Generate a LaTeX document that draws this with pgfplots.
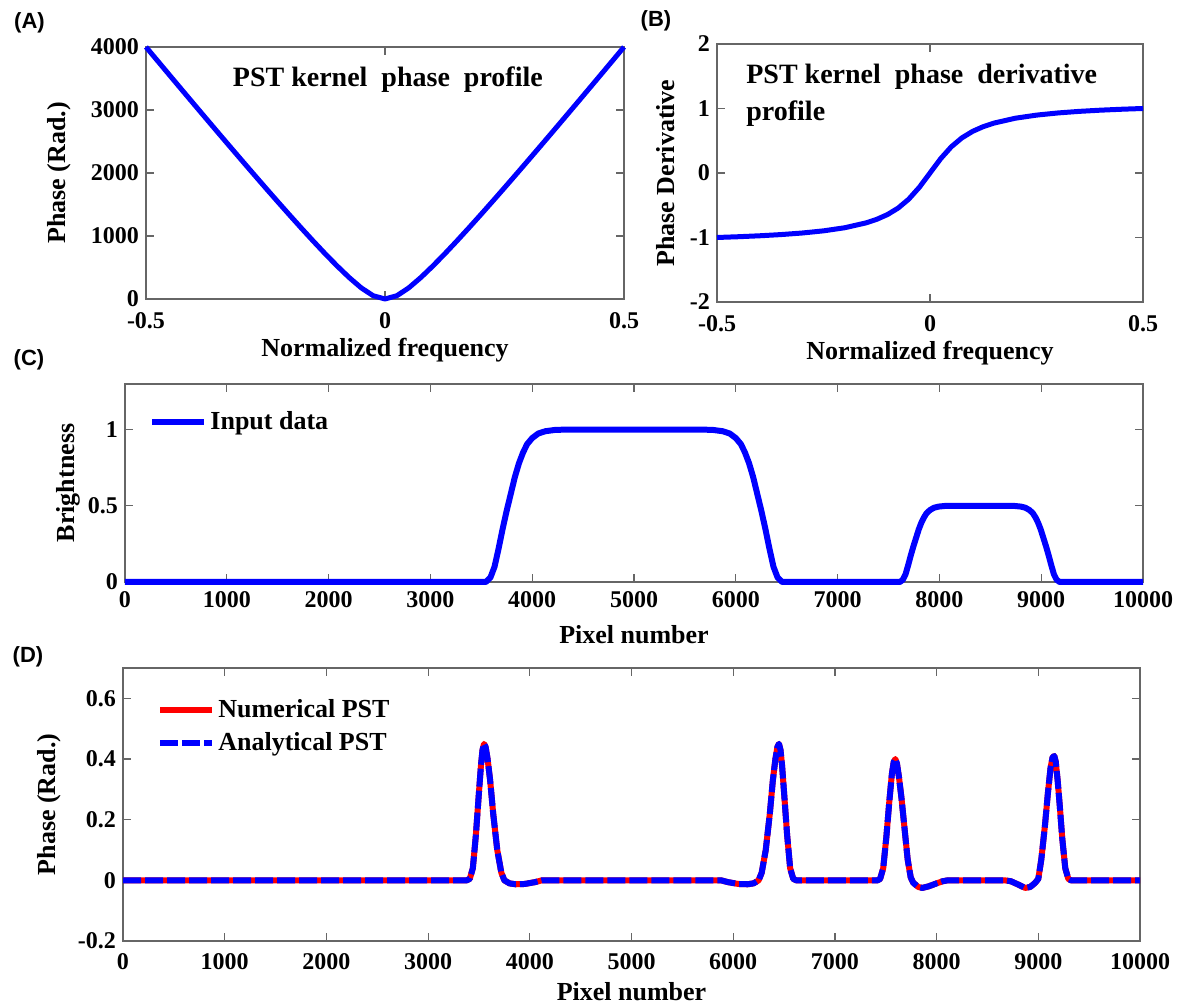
\documentclass[border=0pt]{standalone}
\usepackage{fontspec}
\setmainfont{Liberation Serif}
\newfontfamily\labelfont{Liberation Sans}
\usepackage{pgfplots}
\pgfplotsset{compat=1.18}

\definecolor{mblue}{RGB}{0,0,255}
\definecolor{mred}{RGB}{255,0,0}

\pgfplotsset{
  myaxis/.style={
    scale only axis, clip=false, scaled ticks=false,
    tick align=inside, major tick length=4pt,
    axis line style={black!60, line width=0.6pt},
    every tick/.style={black!60, line width=0.6pt},
    tick label style={font=\fontsize{12}{14}\selectfont\bfseries},
    label style={font=\fontsize{13}{15}\selectfont\bfseries},
    /pgf/number format/assume math mode=true,
    /pgf/number format/1000 sep={},
    legend style={draw=none, fill=none, inner sep=0pt, nodes={inner sep=1.5pt},
      font=\fontsize{13}{15}\selectfont\bfseries, cells={anchor=west}, row sep=3pt},
    legend image code/.code={\draw[##1] (0pt,0pt) -- (26pt,0pt);},
    every axis plot/.append style={line join=round},
  }
}

\pgfplotstableread{
x y
-0.5 4000
-0.475 3773.0
-0.45 3546.5
-0.425 3320.6
-0.4 3095.5
-0.375 2871.1
-0.35 2647.5
-0.325 2425.1
-0.3 2203.8
-0.275 1983.9
-0.25 1765.6
-0.225 1549.3
-0.2 1335.5
-0.175 1124.8
-0.15 918.0
-0.125 716.3
-0.1 523.0
-0.075 340.9
-0.05 178.3
-0.025 52.3
0 0
0.025 52.3
0.05 178.3
0.075 340.9
0.1 523.0
0.125 716.3
0.15 918.0
0.175 1124.8
0.2 1335.5
0.225 1549.3
0.25 1765.6
0.275 1983.9
0.3 2203.8
0.325 2425.1
0.35 2647.5
0.375 2871.1
0.4 3095.5
0.425 3320.6
0.45 3546.5
0.475 3773.0
0.5 4000
}\phasetable

\pgfplotstableread{
x y
-0.5 -1.0
-0.45 -0.9883
-0.4 -0.9737
-0.35 -0.9551
-0.3 -0.9306
-0.25 -0.8972
-0.2 -0.8487
-0.15 -0.7733
-0.125 -0.7186
-0.1 -0.6453
-0.075 -0.5449
-0.05 -0.4065
-0.025 -0.2216
0 0
0.025 0.2216
0.05 0.4065
0.075 0.5449
0.1 0.6453
0.125 0.7186
0.15 0.7733
0.2 0.8487
0.25 0.8972
0.3 0.9306
0.35 0.9551
0.4 0.9737
0.45 0.9883
0.5 1.0
}\derivtable

\pgfplotstableread{
x y
0 0
3545 0
3590 0.03
3630 0.10
3670 0.22
3710 0.35
3750 0.47
3790 0.58
3830 0.69
3870 0.78
3910 0.85
3950 0.905
4000 0.945
4060 0.975
4130 0.99
4220 0.998
4300 1.0
5700 1.0
5780 0.998
5870 0.99
5940 0.975
6000 0.945
6050 0.905
6090 0.85
6130 0.78
6170 0.69
6210 0.58
6250 0.47
6290 0.35
6330 0.22
6370 0.10
6410 0.03
6455 0
7612 0
7641 0.015
7667 0.05
7693 0.11
7719 0.175
7745 0.235
7771 0.29
7797 0.345
7823 0.39
7849 0.425
7875 0.4525
7908 0.4725
7947 0.4875
7992 0.495
8051 0.499
8103 0.5
8689 0.5
8741 0.499
8800 0.495
8845 0.4875
8884 0.4725
8917 0.4525
8943 0.425
8969 0.39
8995 0.345
9021 0.29
9047 0.235
9073 0.175
9099 0.11
9125 0.05
9151 0.015
9180 0
10000 0
}\inputtable

\pgfplotstableread{
x y
0 0
3380 0
3410 0.005
3440 0.04
3470 0.15
3500 0.29
3520 0.38
3535 0.43
3550 0.45
3565 0.44
3585 0.40
3610 0.33
3640 0.22
3680 0.10
3720 0.025
3750 0
3800 -0.01
3860 -0.013
3950 -0.012
4050 -0.006
4120 0
5880 0
5950 -0.006
6050 -0.012
6140 -0.013
6200 -0.01
6250 0
6280 0.025
6320 0.10
6360 0.22
6390 0.33
6415 0.40
6435 0.44
6450 0.45
6465 0.43
6480 0.38
6500 0.29
6530 0.15
6560 0.04
6590 0.005
6620 0
7420 0
7445 0.005
7475 0.04
7505 0.14
7535 0.26
7560 0.35
7578 0.39
7594 0.40
7610 0.385
7630 0.34
7655 0.27
7685 0.17
7715 0.07
7745 0.01
7770 -0.008
7820 -0.022
7860 -0.025
7920 -0.02
8000 -0.01
8060 -0.003
8110 0
8670 0
8730 -0.003
8790 -0.012
8870 -0.025
8920 -0.022
8970 -0.008
9000 0.005
9030 0.07
9065 0.18
9095 0.29
9120 0.37
9140 0.405
9157 0.41
9172 0.39
9190 0.33
9210 0.25
9235 0.14
9265 0.04
9295 0.005
9320 0
10000 0
}\psttable

\begin{document}
\begin{tikzpicture}
\useasboundingbox (0pt,0pt) rectangle (593.5pt,502pt);

% Panel labels
\node[font=\labelfont\bfseries\fontsize{11}{13}\selectfont] at (14.75pt,490.5pt) {(A)};
\node[font=\labelfont\bfseries\fontsize{11}{13}\selectfont] at (328pt,491.5pt) {(B)};
\node[font=\labelfont\bfseries\fontsize{11}{13}\selectfont] at (14.5pt,322pt) {(C)};
\node[font=\labelfont\bfseries\fontsize{11}{13}\selectfont] at (14pt,173.5pt) {(D)};

% (A)
\begin{axis}[myaxis,
  at={(73pt,352.5pt)}, anchor=south west,
  width=239pt, height=126pt,
  xmin=-0.5, xmax=0.5, ymin=0, ymax=4000,
  xtick={-0.5,0,0.5}, ytick={0,1000,2000,3000,4000},
  xticklabel style={anchor=center, yshift=-11pt},
  xlabel={Normalized frequency},
  xlabel style={at={([yshift=-25.5pt]axis description cs:0.5,0)}, anchor=center},
  ylabel={Phase (Rad.)},
  ylabel style={at={([xshift=-43.5pt]axis description cs:0,0.5)}, anchor=center},
]
\addplot[mblue, line width=2.5pt] table[x=x,y=y] {\phasetable};
\node[font=\fontsize{14}{16}\selectfont\bfseries] at (axis description cs:0.506,0.869) {PST kernel\ \ phase\ \ profile};
\end{axis}

% (B)
\begin{axis}[myaxis,
  at={(358.5pt,351pt)}, anchor=south west,
  width=213pt, height=129pt,
  xmin=-0.5, xmax=0.5, ymin=-2, ymax=2,
  xtick={-0.5,0,0.5}, ytick={-2,-1,0,1,2},
  xticklabel style={anchor=center, yshift=-11pt},
  xlabel={Normalized frequency},
  xlabel style={at={([yshift=-25.5pt]axis description cs:0.5,0)}, anchor=center},
  ylabel={Phase Derivative},
  ylabel style={at={([xshift=-25.5pt]axis description cs:0,0.5)}, anchor=center},
]
\addplot[mblue, line width=2.5pt] table[x=x,y=y] {\derivtable};
\node[font=\fontsize{14}{18.5}\selectfont\bfseries, align=left, anchor=north west, inner sep=0pt]
  at (axis description cs:0.068,0.922) {PST kernel\ \ phase\ \ derivative\\profile};
\end{axis}

% (C)
\begin{axis}[myaxis,
  at={(62.5pt,211pt)}, anchor=south west,
  width=509pt, height=99pt,
  xmin=0, xmax=10000, ymin=0, ymax=1.3,
  xtick={0,1000,...,10000}, ytick={0,0.5,1},
  xticklabel style={anchor=center, yshift=-9pt},
  xlabel={Pixel number},
  xlabel style={at={([yshift=-26.5pt]axis description cs:0.5,0)}, anchor=center},
  ylabel={Brightness},
  ylabel style={at={([xshift=-28.5pt]axis description cs:0,0.5)}, anchor=center},
  legend style={at={(axis description cs:0.0236,0.808)}, anchor=west},
]
\addplot[mblue, line width=3pt] table[x=x,y=y] {\inputtable};
\addlegendentry{Input data}
\end{axis}

% (D)
\begin{axis}[myaxis,
  at={(61.5pt,31.5pt)}, anchor=south west,
  width=508.5pt, height=136.5pt,
  xmin=0, xmax=10000, ymin=-0.2, ymax=0.7,
  xtick={0,1000,...,10000}, ytick={-0.2,0,0.2,0.4,0.6},
  yticklabel style={/pgf/number format/fixed},
  xticklabel style={anchor=center, yshift=-10.5pt},
  xlabel={Pixel number},
  xlabel style={at={([yshift=-25.5pt]axis description cs:0.5,0)}, anchor=center},
  ylabel={Phase (Rad.)},
  ylabel style={at={([xshift=-37pt]axis description cs:0,0.5)}, anchor=center},
  legend style={at={(axis description cs:0.0334,0.786)}, anchor=west},
]
\addplot[mred, line width=3pt] table[x=x,y=y] {\psttable};
\addlegendentry{Numerical PST}
\addplot[mblue, line width=3pt, dash pattern=on 9pt off 2pt] table[x=x,y=y] {\psttable};
\addlegendentry{Analytical PST}
\end{axis}
\end{tikzpicture}
\end{document}
